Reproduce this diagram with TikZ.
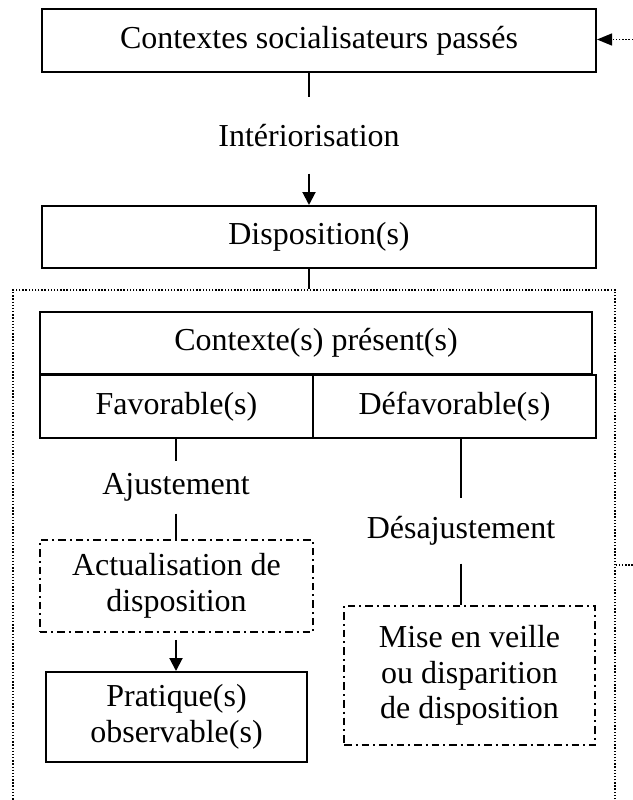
\documentclass[tikz,border=0pt]{standalone}
\usepackage{fontspec}
\setmainfont{Liberation Serif}
\usetikzlibrary{arrows.meta}

\begin{document}
\begin{tikzpicture}[x=1mm, y=-1mm,
	font=\fontsize{9.1pt}{10.1pt}\selectfont,
	box/.style={draw, line width=0.2mm, inner sep=0pt, align=center},
	dashbox/.style={draw, line width=0.15mm, dash pattern=on 0.75mm off 0.4mm on 0.2mm off 0.4mm, inner sep=0pt, align=center},
	lbl/.style={inner sep=0pt, align=center},
	link/.style={line width=0.2mm},
	arrow/.style={line width=0.2mm, -{Triangle[length=1.3mm, width=1.3mm]}},
	frame/.style={line width=0.13mm, dash pattern=on 0.4pt off 0.5pt}]
		\useasboundingbox (0,0) rectangle (63.3,80);
		\clip (0,0) rectangle (63.3,80);
		\node[box, minimum width=55.4mm, minimum height=6.3mm] (passes) at (31.9,4.05) {Contextes socialisateurs passés};
		\node[lbl, minimum height=7.5mm] (interio) at (30.9,13.55) {Intériorisation};
		\node[box, minimum width=55.4mm, minimum height=6.2mm] (dispo) at (31.9,23.7) {Disposition(s)};
		\node[frame, draw, minimum width=60.2mm, minimum height=54mm] (zone) at (31.4,56) {};
		\node[box, minimum width=55.2mm, minimum height=6.2mm] (contexte) at (31.6,34.3) {Contexte(s) présent(s)};
		\node[box, minimum width=27.3mm, minimum height=6.3mm] (favor) at (17.65,40.65) {Favorable(s)};
		\node[box, minimum width=28.3mm, minimum height=6.3mm] (defavor) at (45.45,40.65) {Défavorable(s)};
		\node[lbl, minimum height=5.1mm] (ajust) at (17.6,48.75) {Ajustement};
		\node[dashbox, minimum width=27.3mm, minimum height=9.2mm] (actu) at (17.65,58.6) {Actualisation de\\disposition};
		\node[box, minimum width=26.1mm, minimum height=9mm] (pratique) at (17.65,71.7) {Pratique(s)\\observable(s)};
		\node[lbl, minimum height=6.4mm] (desaj) at (46.1,53.1) {Désajustement};
		\node[dashbox, minimum width=25.1mm, minimum height=13.9mm] (veille) at (46.95,67.55) {Mise en veille\\ou disparition\\de disposition};
		% liaisons
		\draw[link] (passes.south -| interio) -- (interio.north);
		\draw[arrow] (interio.south) -- (interio.south |- dispo.north);
		\draw[link] (dispo.south -| interio) -- (zone.north -| interio);
		\draw[link] (favor.south -| ajust) -- (ajust.north);
		\draw[link] (ajust.south) -- (ajust.south |- actu.north);
		\draw[arrow, shorten <=0.7mm] (actu.south -| ajust) -- (pratique.north -| ajust);
		\draw[link] (defavor.south -| desaj) -- (desaj.north);
		\draw[link] (desaj.south) -- (desaj.south |- veille.north);
		% retour
		\coordinate (entree) at (63.3,3.95);
		\coordinate (sortie) at (63.3,56.5);
		\draw[frame, -{Triangle[length=1.5mm, width=1.2mm]}] (entree) -- (entree -| passes.east);
		\draw[frame] (zone.east |- sortie) -- (sortie);
\end{tikzpicture}
\end{document}
